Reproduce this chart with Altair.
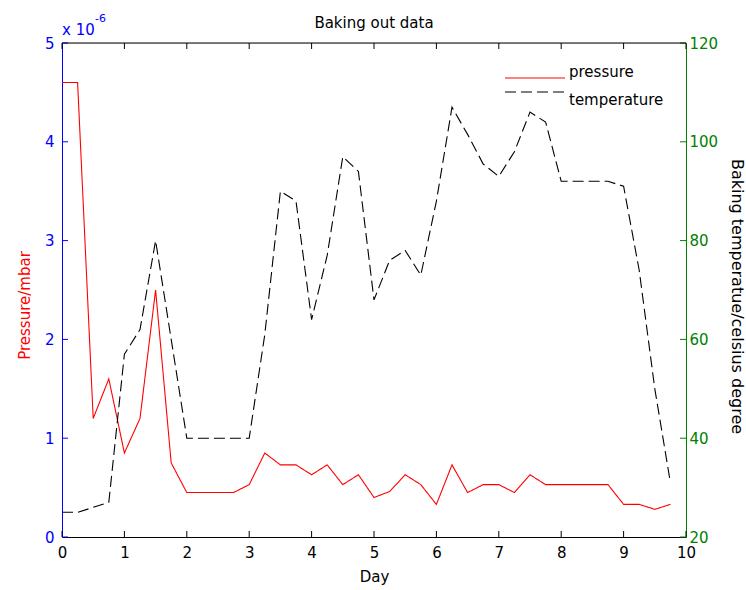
import altair as alt
import pandas as pd

# ---- data ----
days = [0, 0.25, 0.5, 0.75, 1.0, 1.25, 1.5, 1.75, 2.0, 2.25,
        2.5, 2.75, 3.0, 3.25, 3.5, 3.75, 4.0, 4.25, 4.5, 4.75,
        5.0, 5.25, 5.5, 5.75, 6.0, 6.25, 6.5, 6.75, 7.0, 7.25,
        7.5, 7.75, 8.0, 8.25, 8.5, 8.75, 9.0, 9.25, 9.5, 9.75]
# pressure in units of 1e-6 mbar
pressure = [4.6, 4.6, 1.2, 1.6, 0.85, 1.2, 2.5, 0.75, 0.45, 0.45,
            0.45, 0.45, 0.53, 0.85, 0.73, 0.73, 0.63, 0.73, 0.53, 0.63,
            0.40, 0.46, 0.63, 0.53, 0.33, 0.73, 0.45, 0.53, 0.53, 0.45,
            0.63, 0.53, 0.53, 0.53, 0.53, 0.53, 0.33, 0.33, 0.28, 0.33]
temperature = [25, 25, 26, 27, 57, 62, 80, 60, 40, 40,
               40, 40, 40, 61, 90, 88, 64, 77, 97, 94,
               68, 76, 78, 73, 88, 107, 101.5, 95.5, 93, 98,
               106, 104, 92, 92, 92, 92, 91, 74, 50, 31]
series_names = ["pressure", "temperature"]
x_ticks = [0, 1, 2, 3, 4, 5, 6, 7, 8, 9, 10]
p_ticks = [0, 1, 2, 3, 4, 5]
t_ticks = [20, 40, 60, 80, 100, 120]
title_text = "Baking out data"

W, H = 624, 494
FONT = "DejaVu Sans"
BLUE = "#0000FF"
GREEN = "#008000"
RED = "#FF0000"

df = pd.DataFrame({
    "day": days * 2,
    "value": pressure + temperature,
    "series": [series_names[0]] * len(days) + [series_names[1]] * len(days),
})
legend_df = pd.DataFrame({"series": series_names})

xscale = alt.Scale(domain=[0, 10], nice=False, zero=False)
pscale = alt.Scale(domain=[0, 5], nice=False, zero=False)
tscale = alt.Scale(domain=[20, 120], nice=False, zero=False)

color = alt.Color("series:N",
                  scale=alt.Scale(domain=series_names, range=[RED, "black"]),
                  legend=None)
dash = alt.StrokeDash("series:N",
                      scale=alt.Scale(domain=series_names, range=[[1, 0], [11, 5]]),
                      legend=None)

xaxis = alt.Axis(values=x_ticks, tickSize=0, labelPadding=8, title="Day",
                 domainColor="black", labelColor="black", labelFont=FONT,
                 labelFontSize=15, titleFont=FONT, titleFontSize=15,
                 titleFontWeight="normal", titleColor="black", titlePadding=9,
                 grid=False, format="d", labelFlush=False)
X = alt.X("day:Q", scale=xscale, axis=xaxis)

base = alt.Chart(df)

p_line = base.transform_filter(alt.datum.series == "pressure").mark_line(
    strokeWidth=1.1, clip=True).encode(
    x=X,
    y=alt.Y("value:Q", scale=pscale,
            axis=alt.Axis(orient="left", values=p_ticks, tickSize=0, labelPadding=8,
                          title="Pressure/mbar", domainColor=BLUE, labelColor=BLUE,
                          labelFont=FONT, labelFontSize=15, titleFont=FONT,
                          titleFontSize=15, titleFontWeight="normal", titleColor=RED,
                          titlePadding=12, titleY=262, grid=False, format="d",
                          labelFlush=False)),
    color=color,
    strokeDash=dash,
)

t_line = base.transform_filter(alt.datum.series == "temperature").mark_line(
    strokeWidth=1.1, clip=True).encode(
    x=X,
    y=alt.Y("value:Q", scale=tscale,
            axis=alt.Axis(orient="right", values=t_ticks, tickSize=0, labelPadding=3,
                          title="Baking temperatue/celsius degree", domainColor=GREEN,
                          labelColor=GREEN, labelFont=FONT, labelFontSize=15,
                          titleFont=FONT, titleFontSize=16, titleFontWeight="normal",
                          titleColor="black", titlePadding=11, titleY=253,
                          grid=False, format="d", labelFlush=False)),
    color=color,
    strokeDash=dash,
)

# inward tick marks
xt_df = pd.DataFrame({"day": x_ticks})
pt_df = pd.DataFrame({"t": p_ticks})
tt_df = pd.DataFrame({"t": t_ticks})

bottom_ticks = alt.Chart(xt_df).mark_rule(color="black", strokeWidth=1).encode(
    x=X, y=alt.value(H), y2=alt.value(H - 6))
top_ticks = alt.Chart(xt_df).mark_rule(color="black", strokeWidth=1).encode(
    x=X, y=alt.value(0), y2=alt.value(6))
left_ticks = alt.Chart(pt_df).mark_rule(color=BLUE, strokeWidth=1).encode(
    y=alt.Y("t:Q", scale=pscale, axis=None), x=alt.value(0), x2=alt.value(6))
right_ticks = alt.Chart(tt_df).mark_rule(color=GREEN, strokeWidth=1).encode(
    y=alt.Y("t:Q", scale=tscale, axis=None), x=alt.value(W), x2=alt.value(W - 6))

dummy = alt.Data(values=[{}])
top_border = alt.Chart(dummy).mark_rule(color="black", strokeWidth=1).encode(
    x=alt.value(0), x2=alt.value(W), y=alt.value(0))
exp_base = alt.Chart(dummy).mark_text(text="x 10", align="left", baseline="alphabetic",
                                      color=BLUE, font=FONT, fontSize=15).encode(
    x=alt.value(0), y=alt.value(-8))
exp_sup = alt.Chart(dummy).mark_text(text="-6", align="left", baseline="alphabetic",
                                     color=BLUE, font=FONT, fontSize=11).encode(
    x=alt.value(33), y=alt.value(-21))
title_mark = alt.Chart(dummy).mark_text(text=title_text, align="center",
                                        baseline="alphabetic", color="black",
                                        font=FONT, fontSize=15).encode(
    x=alt.value(W / 2), y=alt.value(-15))

# legend built from the series list, positioned through an ordinal scale
leg_y = alt.Y("series:N",
              scale=alt.Scale(domain=series_names, range=[28, 56], padding=0),
              axis=None)
legend_lines = alt.Chart(legend_df).mark_rule(strokeWidth=1).encode(
    y=leg_y, x=alt.value(443), x2=alt.value(503), color=color, strokeDash=dash)
legend_text = alt.Chart(legend_df).mark_text(
    align="left", baseline="middle", font=FONT, fontSize=15, color="black", dy=1).encode(
    y=leg_y, x=alt.value(507), text="series:N")

chart = alt.layer(
    p_line, t_line, bottom_ticks, top_ticks, left_ticks, right_ticks,
    top_border, exp_base, exp_sup, title_mark, legend_lines, legend_text,
).resolve_scale(y="independent").properties(
    width=W, height=H,
    autosize=alt.AutoSizeParams(type="none"),
    padding={"left": 62, "top": 43, "right": 60, "bottom": 53},
).configure_view(stroke=None).configure(background="white")

chart.save("out.html", embed_options={"renderer": "svg", "actions": False})
